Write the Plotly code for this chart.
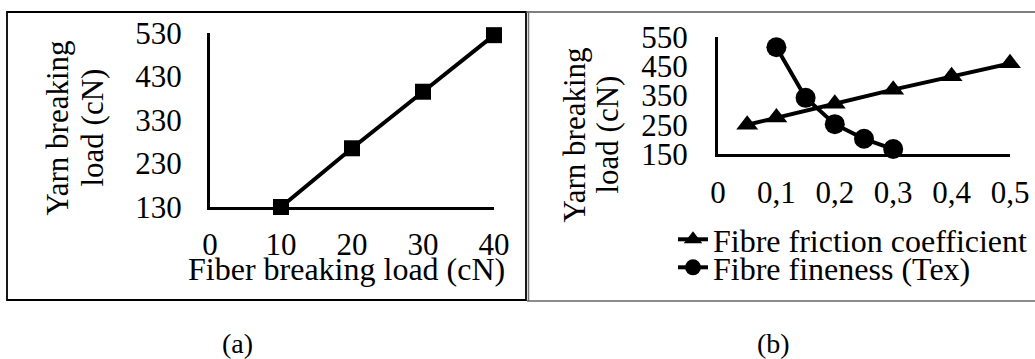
import plotly.graph_objects as go

W, H = 1035, 359

# ---- data ----
fiber_load = [10, 20, 30, 40]
yarn_load_a = [130, 265, 395, 525]

friction_coef = [0.05, 0.1, 0.2, 0.3, 0.4, 0.5]
yarn_load_friction = [250, 275, 322, 370, 416, 460]

fineness_x = [0.1, 0.15, 0.2, 0.25, 0.3]
yarn_load_fineness = [515, 342, 252, 202, 167]

xticks_a = [0, 10, 20, 30, 40]
yticks_a = [130, 230, 330, 430, 530]
xticks_b = [0, 0.1, 0.2, 0.3, 0.4, 0.5]
yticks_b = [150, 250, 350, 450, 550]

FONT = "Liberation Serif, Times New Roman, serif"
FS = 31
FT = 32


def fx(px):
    return px / W


def fy(py):
    return 1 - py / H


fig = go.Figure()

fig.add_trace(go.Scatter(
    x=fiber_load, y=yarn_load_a, mode="lines+markers",
    line=dict(color="black", width=4),
    marker=dict(symbol="square", size=16, color="black"),
    xaxis="x", yaxis="y", showlegend=False, cliponaxis=False,
))
fig.add_trace(go.Scatter(
    x=friction_coef, y=yarn_load_friction, mode="lines+markers",
    name="Fibre friction coefficient",
    line=dict(color="black", width=4),
    marker=dict(symbol="triangle-up", size=19, color="black"),
    xaxis="x2", yaxis="y2", legend="legend", cliponaxis=False,
))
fig.add_trace(go.Scatter(
    x=fineness_x, y=yarn_load_fineness, mode="lines+markers",
    name="Fibre fineness (Tex)",
    line=dict(color="black", width=4),
    marker=dict(symbol="circle", size=20, color="black"),
    xaxis="x2", yaxis="y2", legend="legend2", cliponaxis=False,
))

axis_common = dict(
    showgrid=False, zeroline=False, showline=True, linecolor="black",
    linewidth=3, ticks="outside", tickcolor="rgba(0,0,0,0)", tickwidth=1,
    tickfont=dict(family=FONT, size=FS, color="black"),
)

fig.update_layout(
    width=W, height=H,
    margin=dict(l=0, r=0, t=0, b=0, autoexpand=False),
    paper_bgcolor="white", plot_bgcolor="white",
    font=dict(family=FONT, size=FS, color="black"),
    separators=", ",
    xaxis=dict(domain=[fx(210), fx(494)], range=[0, 40], tickvals=xticks_a,
               anchor="y", ticklen=8, **axis_common),
    yaxis=dict(domain=[fy(207), fy(33)], range=[130, 530], tickvals=yticks_a,
               anchor="x", ticklen=19, **axis_common),
    xaxis2=dict(domain=[fx(718), fx(1010)], range=[0, 0.5], tickvals=xticks_b,
                anchor="y2", ticklen=9, **axis_common),
    yaxis2=dict(domain=[fy(154), fy(37)], range=[150, 550], tickvals=yticks_b,
                anchor="x2", ticklen=21, **axis_common),
    legend=dict(x=fx(673), y=fy(239.5), xanchor="left", yanchor="middle",
                font=dict(family=FONT, size=FT), bgcolor="rgba(0,0,0,0)",
                borderwidth=0),
    legend2=dict(x=fx(673), y=fy(267.5), xanchor="left", yanchor="middle",
                 font=dict(family=FONT, size=FT), bgcolor="rgba(0,0,0,0)",
                 borderwidth=0),
    hovermode=False,
)

ann = [
    dict(text="Yarn breaking", x=fx(57.5), y=fy(128), textangle=-90),
    dict(text="load (cN)", x=fx(92.5), y=fy(128), textangle=-90),
    dict(text="Yarn breaking", x=fx(573.5), y=fy(135), textangle=-90),
    dict(text="load (cN)", x=fx(606.5), y=fy(135), textangle=-90),
    dict(text="Fiber breaking load (cN)", x=fx(346), y=fy(269),
         font=dict(family=FONT, size=FT, color="black")),
    dict(text="(a)", x=fx(237), y=fy(343), font=dict(family=FONT, size=28, color="black")),
    dict(text="(b)", x=fx(773), y=fy(343), font=dict(family=FONT, size=28, color="black")),
]
for a in ann:
    a.setdefault("font", dict(family=FONT, size=FS, color="black"))
    fig.add_annotation(xref="paper", yref="paper", showarrow=False,
                       xanchor="center", yanchor="middle", **a)

shapes = [
    dict(type="rect", x0=fx(7), x1=fx(526), y0=fy(12), y1=fy(300),
         line=dict(color="black", width=1.8)),
    dict(type="line", x0=fx(526), x1=fx(1035), y0=fy(12), y1=fy(12),
         line=dict(color="#555555", width=1.5)),
    dict(type="line", x0=fx(528.5), x1=fx(528.5), y0=fy(12), y1=fy(301),
         line=dict(color="#777777", width=1.5)),
    dict(type="line", x0=fx(527), x1=fx(1035), y0=fy(301), y1=fy(301),
         line=dict(color="#666666", width=1.5)),
]
for s in shapes:
    fig.add_shape(xref="paper", yref="paper", **s)

fig.write_html("out.html")
